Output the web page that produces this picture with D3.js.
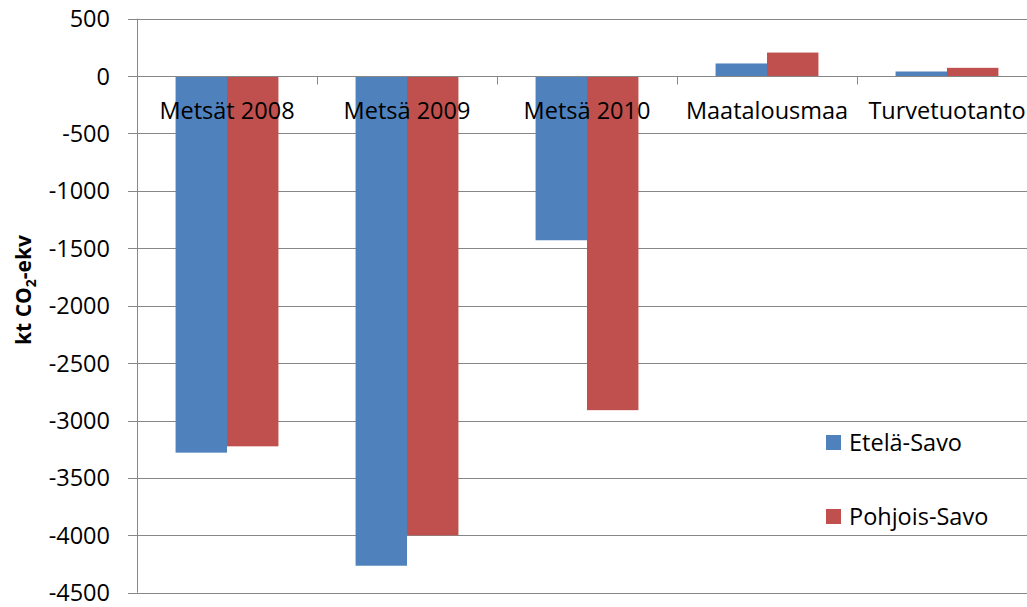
<!DOCTYPE html>
<html>
<head>
<meta charset="utf-8">
<script src="https://cdn.jsdelivr.net/npm/d3@7"></script>
<style>
  body { margin: 0; background: #fff; }
  svg { display: block; font-family: "Open Sans", sans-serif; }
</style>
</head>
<body>
<div id="chart"></div>
<script>
var categories = ["Metsät 2008", "Metsä 2009", "Metsä 2010", "Maatalousmaa", "Turvetuotanto"];
var seriesNames = ["Etelä-Savo", "Pohjois-Savo"];
var etelaSavo = [-3280, -4265, -1430, 110, 40];
var pohjoisSavo = [-3225, -4000, -2910, 205, 72];
var yTicks = [500, 0, -500, -1000, -1500, -2000, -2500, -3000, -3500, -4000, -4500];
var colors = ["#4f81bd", "#c0504d"];

var width = 1027,
    height = 607,
    plot_left = 137,
    plot_right = 1037,
    plot_top = 18.7,
    plot_bottom = 592.7,
    font_size = 23.5;

var svg = d3.select("#chart").append("svg")
    .attr("width", width)
    .attr("height", height);

var y = d3.scaleLinear()
    .domain([-4500, 500])
    .range([plot_bottom, plot_top]);

var x = d3.scaleBand()
    .domain(categories)
    .range([plot_left, plot_right]);

var xSub = d3.scaleBand()
    .domain(seriesNames)
    .range([0, x.bandwidth()])
    .paddingInner(0)
    .paddingOuter(0.75);

// gridlines
svg.append("g")
    .selectAll("line")
    .data(yTicks)
    .join("line")
        .attr("x1", plot_left - 9)
        .attr("x2", plot_right)
        .attr("y1", function(d){ return Math.round(y(d)) + 0.5; })
        .attr("y2", function(d){ return Math.round(y(d)) + 0.5; })
        .attr("stroke", "#878787")
        .attr("stroke-width", 1);

// y tick labels
svg.append("g")
    .selectAll("text")
    .data(yTicks)
    .join("text")
        .attr("x", 110)
        .attr("y", function(d){ return y(d); })
        .attr("dy", "0.36em")
        .attr("text-anchor", "end")
        .attr("font-size", font_size)
        .attr("fill", "#000")
        .text(function(d){ return d; });

// bars
var series = [etelaSavo, pohjoisSavo];
series.forEach(function(vals, si) {
    svg.append("g")
        .selectAll("rect")
        .data(vals)
        .join("rect")
            .attr("x", function(d, i){ return x(categories[i]) + xSub(seriesNames[si]); })
            .attr("y", function(d){ return y(Math.max(0, d)); })
            .attr("width", xSub.bandwidth())
            .attr("height", function(d){ return Math.abs(y(d) - y(0)); })
            .attr("fill", colors[si]);
});

// y axis line
svg.append("line")
    .attr("x1", plot_left + 0.5)
    .attr("x2", plot_left + 0.5)
    .attr("y1", plot_top)
    .attr("y2", plot_bottom)
    .attr("stroke", "#878787");

// x axis at zero with category ticks
var y0 = Math.round(y(0)) + 0.5;
svg.append("line")
    .attr("x1", plot_left)
    .attr("x2", plot_right)
    .attr("y1", y0)
    .attr("y2", y0)
    .attr("stroke", "#878787");
svg.append("g")
    .selectAll("line")
    .data(categories.slice(1))
    .join("line")
        .attr("x1", function(d){ return Math.round(x(d)) + 0.5; })
        .attr("x2", function(d){ return Math.round(x(d)) + 0.5; })
        .attr("y1", y0)
        .attr("y2", y0 + 8)
        .attr("stroke", "#878787");

// category labels
svg.append("g")
    .selectAll("text")
    .data(categories)
    .join("text")
        .attr("x", function(d){ return x(d) + x.bandwidth() / 2; })
        .attr("y", 119)
        .attr("text-anchor", "middle")
        .attr("font-size", font_size)
        .attr("fill", "#000")
        .text(function(d){ return d; });

// y axis title
var title = svg.append("text")
    .attr("transform", "translate(31,290) rotate(-90)")
    .attr("text-anchor", "middle")
    .attr("font-size", 21)
    .attr("font-weight", "bold")
    .attr("fill", "#000");
title.append("tspan").text("kt CO");
title.append("tspan").attr("font-size", 14).attr("dy", 5).text("2");
title.append("tspan").attr("dy", -5).text("-ekv");

// legend
var legend = svg.append("g")
    .selectAll("g")
    .data(seriesNames)
    .join("g")
        .attr("transform", function(d, i){ return "translate(826," + (435 + i * 74) + ")"; });
legend.append("rect")
    .attr("width", 15)
    .attr("height", 15)
    .attr("fill", function(d, i){ return colors[i]; });
legend.append("text")
    .attr("x", 23)
    .attr("y", 16)
    .attr("font-size", font_size)
    .attr("fill", "#000")
    .text(function(d){ return d; });
</script>
</body>
</html>
